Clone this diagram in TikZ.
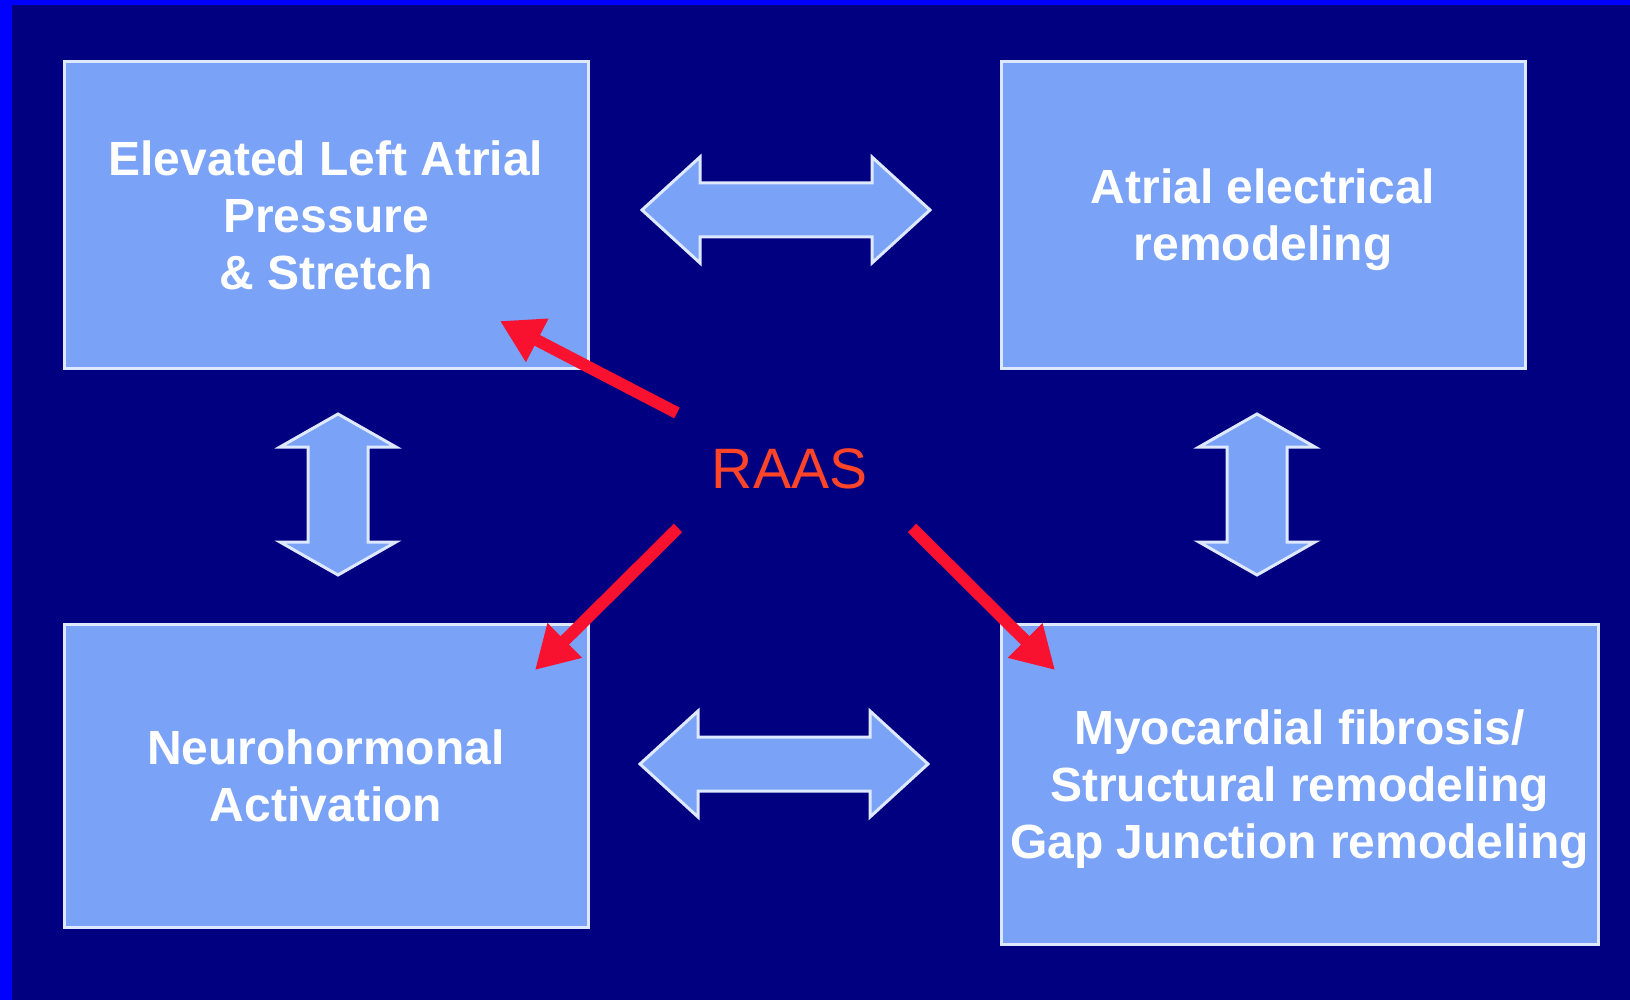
\documentclass[tikz,border=0pt]{standalone}
\usepackage{fontspec}
\setmainfont{Liberation Sans}
\usetikzlibrary{arrows.meta}

\definecolor{slidebg}{RGB}{0,0,128}
\definecolor{slideedge}{RGB}{0,0,255}
\definecolor{boxfill}{RGB}{122,162,247}
\definecolor{boxline}{RGB}{222,232,255}
\definecolor{raasred}{RGB}{248,18,48}
\definecolor{raastext}{RGB}{255,68,40}

\tikzset{
  panel/.style={draw=boxline, line width=3pt, fill=boxfill, rectangle,
    inner sep=0pt, align=center, text=white, text depth=0pt,
    font=\bfseries\fontsize{48}{57}\selectfont},
  blockarrow/.style={draw=boxline, line width=3pt, fill=boxfill, line join=miter},
  raasarrow/.style={draw=raasred, line width=12pt,
    -{Triangle[length=42pt,width=46pt]}}
}

\begin{document}
\begin{tikzpicture}[x=1pt, y=-1pt]
  \useasboundingbox (0,0) rectangle (1630,1000);
  % slide background with its bright left and top edges
  \fill[slidebg] (0,0) rectangle (1630,1000);
  \fill[slideedge] (0,0) rectangle (12,1000);
  \fill[slideedge] (0,0) rectangle (1630,5);

  % the four panels
  \node[panel, minimum width=524pt, minimum height=306pt] (pressure) at (326,215)
    {Elevated Left Atrial\\Pressure\\\& Stretch};
  \node[panel, minimum width=524pt, minimum height=306pt] (electrical) at (1263,215)
    {Atrial electrical\\remodeling};
  \node[panel, minimum width=524pt, minimum height=303pt] (neuro) at (326,775.5)
    {Neurohormonal\\Activation};
  \node[panel, minimum width=597pt, minimum height=320pt] (fibrosis) at (1299.5,784)
    {Myocardial fibrosis/\\Structural remodeling\\Gap Junction remodeling};

  % two-way block arrows between the panels
  \draw[blockarrow] (642,210) -- (700,157) -- (700,183) -- (872,183) -- (872,157)
    -- (930,210) -- (872,263) -- (872,237) -- (700,237) -- (700,263) -- cycle;
  \draw[blockarrow] (640,764) -- (698,711) -- (698,737) -- (870,737) -- (870,711)
    -- (928,764) -- (870,817) -- (870,791) -- (698,791) -- (698,817) -- cycle;
  \draw[blockarrow] (338,414) -- (396,447) -- (368,447) -- (368,542) -- (396,542)
    -- (338,575) -- (280,542) -- (308,542) -- (308,447) -- (280,447) -- cycle;
  \draw[blockarrow] (1257,414) -- (1315,447) -- (1287,447) -- (1287,542) -- (1315,542)
    -- (1257,575) -- (1199,542) -- (1227,542) -- (1227,447) -- (1199,447) -- cycle;

  % RAAS label and its arrows
  \node[anchor=base, text=raastext, inner sep=0pt,
        font=\fontsize{57}{60}\selectfont] (raas) at (789.5,488) {RAAS};

  \coordinate (tailA) at (677,413);
  \coordinate (tailB) at (678,528);
  \coordinate (tailC) at (912,528);
  \coordinate (tipA) at (500,321);
  \coordinate (tipB) at (535,670);
  \coordinate (tipC) at (1055,670);

  \draw[raasarrow] (tailA) -- (tipA);
  \draw[raasarrow] (tailB) -- (tipB);
  \draw[raasarrow] (tailC) -- (tipC);
\end{tikzpicture}
\end{document}
